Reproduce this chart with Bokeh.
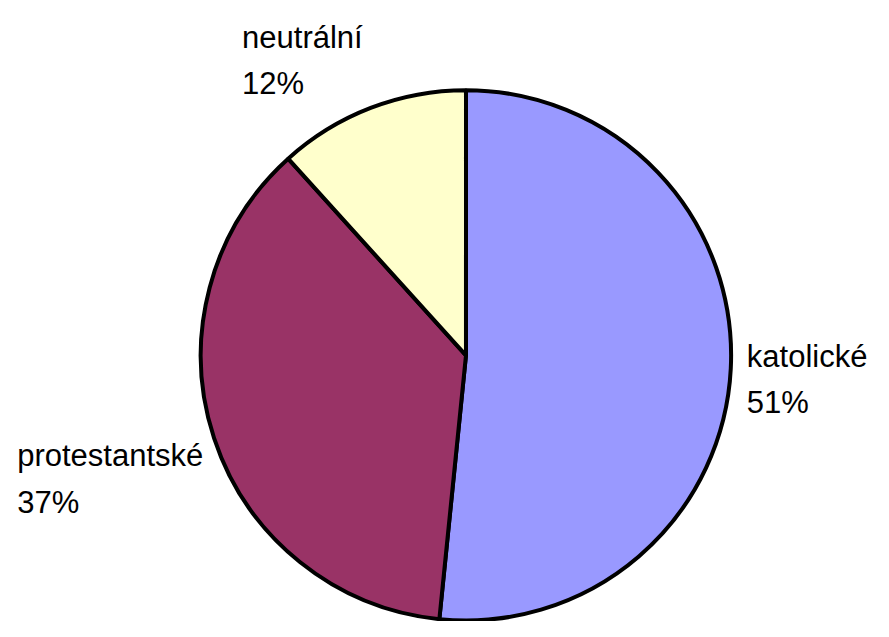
import math
from bokeh.plotting import figure
from bokeh.models import Range1d, ColumnDataSource
from bokeh.core.properties import value
from bokeh.embed import file_html
from bokeh.resources import INLINE

# ---- data ----
categories = ["katolické", "protestantské", "neutrální"]
shares = [51.6, 36.7, 11.7]
pct_labels = ["51%", "37%", "12%"]
colors = ["#9999FF", "#993366", "#FFFFCC"]

# ---- layout (reference pixels) ----
W, H = 889, 637
CX, CY, R = 474, 364, 270
# label anchors: left x, baseline of first line, baseline of second line
label_pos = [(760, 365, 412), (17, 467, 515), (246, 38, 85)]


def dy(page_y):
    return H - page_y


total = sum(shares)
starts, ends = [], []
cum = 0.0
for s in shares:
    a0 = cum / total
    a1 = (cum + s) / total
    # clockwise from 12 o'clock -> bokeh anticlockwise angles from +x
    starts.append(math.pi / 2 - 2 * math.pi * a1)
    ends.append(math.pi / 2 - 2 * math.pi * a0)
    cum += s

src = ColumnDataSource(dict(
    x=[CX] * len(shares), y=[dy(CY)] * len(shares),
    start=starts, end=ends, color=colors,
))

p = figure(width=W - 16, height=H - 16, output_backend="svg", toolbar_location=None,
           x_range=Range1d(0, W), y_range=Range1d(0, H),
           min_border=0, outline_line_color=None)
p.axis.visible = False
p.grid.visible = False
p.background_fill_color = "white"
p.border_fill_color = "white"

p.wedge(x="x", y="y", radius=R, start_angle="start", end_angle="end",
        fill_color="color", line_color="black", line_width=4, source=src)

tx, ty, tt = [], [], []
for (lx, b1, b2), cat, pl in zip(label_pos, categories, pct_labels):
    tx += [lx, lx]
    ty += [dy(b1), dy(b2)]
    tt += [cat, pl]

p.text(x=tx, y=ty, text=tt, text_font=value("Liberation Sans"),
       text_font_size="31px", text_color="black",
       text_align="left", text_baseline="alphabetic")

open("out.html", "w").write(file_html(p, INLINE))
